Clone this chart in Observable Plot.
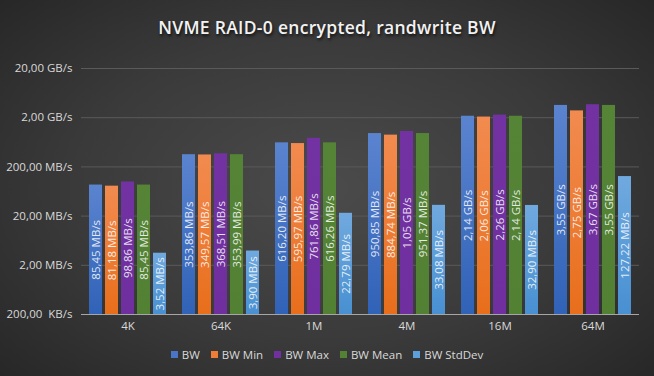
<!DOCTYPE html>
<html>
<head>
<meta charset="utf-8">
<script src="https://cdn.jsdelivr.net/npm/d3@7"></script>
<script src="https://cdn.jsdelivr.net/npm/@observablehq/plot@0.6"></script>
<style>
  html, body { margin: 0; padding: 0; }
  #chart {
    position: relative; width: 654px; height: 376px; overflow: hidden;
    background: radial-gradient(ellipse 70% 75% at 50% 50%, #4b4b4b 0%, #3a3a3a 55%, #262626 100%);
    font-family: "Open Sans", "Noto Sans", sans-serif;
  }
  #title {
    height: 50px; line-height: 54px; text-align: center; color: #f2f2f2;
    font-size: 17.5px; font-weight: 600; letter-spacing: 0.3px;
    text-shadow: 1px 2px 3px rgba(0,0,0,0.7);
  }
  #legend {
    display: flex; justify-content: center; align-items: center; gap: 11px;
    height: 30px; color: #d9d9d9; font-size: 11.5px; padding-left: 0px;
  }
  #legend .item { display: flex; align-items: center; gap: 4px; }
  #legend .sw { width: 7px; height: 7px; display: inline-block; }
  svg { display: block; }
</style>
</head>
<body>
<div id="chart">
  <div id="title">NVME RAID-0 encrypted, randwrite BW</div>
  <div id="plot"></div>
  <div id="legend"></div>
</div>
<script>
// Data (values in MB/s)
const categories = ["4K", "64K", "1M", "4M", "16M", "64M"];
const seriesNames = ["BW", "BW Min", "BW Max", "BW Mean", "BW StdDev"];
const bw       = [85.45, 353.86, 616.20, 950.85, 2140, 3550];
const bwMin    = [81.18, 349.57, 595.97, 884.74, 2060, 2750];
const bwMax    = [98.86, 368.51, 761.86, 1050, 2260, 3670];
const bwMean   = [85.45, 353.99, 616.26, 951.37, 2140, 3550];
const bwStdDev = [3.52, 3.90, 22.79, 33.08, 32.90, 127.22];
const barLabels = [
  ["85,45 MB/s", "353,86 MB/s", "616,20 MB/s", "950,85 MB/s", "2,14 GB/s", "3,55 GB/s"],
  ["81,18 MB/s", "349,57 MB/s", "595,97 MB/s", "884,74 MB/s", "2,06 GB/s", "2,75 GB/s"],
  ["98,86 MB/s", "368,51 MB/s", "761,86 MB/s", "1,05 GB/s", "2,26 GB/s", "3,67 GB/s"],
  ["85,45 MB/s", "353,99 MB/s", "616,26 MB/s", "951,37 MB/s", "2,14 GB/s", "3,55 GB/s"],
  ["3,52 MB/s", "3,90 MB/s", "22,79 MB/s", "33,08 MB/s", "32,90 MB/s", "127,22 MB/s"]
];
const yTicks = [0.2, 2, 20, 200, 2000, 20000];
const yTickLabels = ["200,00  KB/s", "2,00 MB/s", "20,00 MB/s", "200,00 MB/s", "2,00 GB/s", "20,00 GB/s"];
const seriesColors = ["#4a75c6", "#ee7e35", "#7030a0", "#548235", "#5b9fdb"];
const gradTop = ["#5b84cf", "#f28b50", "#7232a2", "#558436", "#70a9de"];
const gradBottom = ["#3062b7", "#e86e1b", "#702f9f", "#538134", "#4890d2"];

const seriesValues = [bw, bwMin, bwMax, bwMean, bwStdDev];
const rows = [];
seriesNames.forEach((s, si) => {
  categories.forEach((c, ci) => {
    rows.push({category: c, series: s, value: seriesValues[si][ci], label: barLabels[si][ci]});
  });
});
const yMin = yTicks[0];

const plot = Plot.plot({
  width: 654,
  height: 289,
  marginTop: 18,
  marginLeft: 80,
  marginRight: 14,
  marginBottom: 25,
  style: {background: "transparent", color: "#d9d9d9", fontSize: "11.5px", fontFamily: "'Open Sans', 'Noto Sans', sans-serif"},
  fx: {domain: categories, padding: 0, label: null, axis: "bottom", tickSize: 0, tickPadding: 7},
  x: {domain: seriesNames, paddingInner: 0.18, paddingOuter: 0.39, axis: null},
  y: {type: "log", domain: [yTicks[0], yTicks[yTicks.length - 1]], ticks: yTicks,
      tickFormat: (d, i) => yTickLabels[yTicks.indexOf(d)], tickSize: 0, tickPadding: 9, label: null},
  color: {domain: seriesNames, range: seriesNames.map((s, i) => `url(#grad${i})`)},
  marks: [
    Plot.ruleY(yTicks.slice(1), {stroke: "#5a5a5a", strokeWidth: 1}),
    Plot.barY(rows, {fx: "category", x: "series", y1: yMin, y2: "value", fill: "series",
      style: "filter: drop-shadow(2px 1px 1.5px rgba(0,0,0,0.55))"}),
    Plot.text(rows, {fx: "category", x: "series", y: d => Math.sqrt(d.value * yMin), text: "label",
      rotate: -90, fill: "#ffffff", fillOpacity: 0.85, fontSize: 11.5}),
    Plot.ruleY([yMin], {stroke: "#a6a6a6", strokeWidth: 1})
  ]
});

// gradient defs for bar fills
const svg = d3.select(plot.tagName.toLowerCase() === "svg" ? plot : plot.querySelector("svg"));
const defs = svg.insert("defs", ":first-child");
seriesNames.forEach((s, i) => {
  const g = defs.append("linearGradient").attr("id", `grad${i}`).attr("x1", 0).attr("y1", 0).attr("x2", 0).attr("y2", 1);
  g.append("stop").attr("offset", "0%").attr("stop-color", gradTop[i]);
  g.append("stop").attr("offset", "100%").attr("stop-color", gradBottom[i]);
});
document.getElementById("plot").appendChild(plot);

// legend
const legend = d3.select("#legend");
seriesNames.forEach((s, i) => {
  const it = legend.append("div").attr("class", "item");
  it.append("span").attr("class", "sw").style("background", seriesColors[i]);
  it.append("span").text(s);
});
</script>
</body>
</html>
